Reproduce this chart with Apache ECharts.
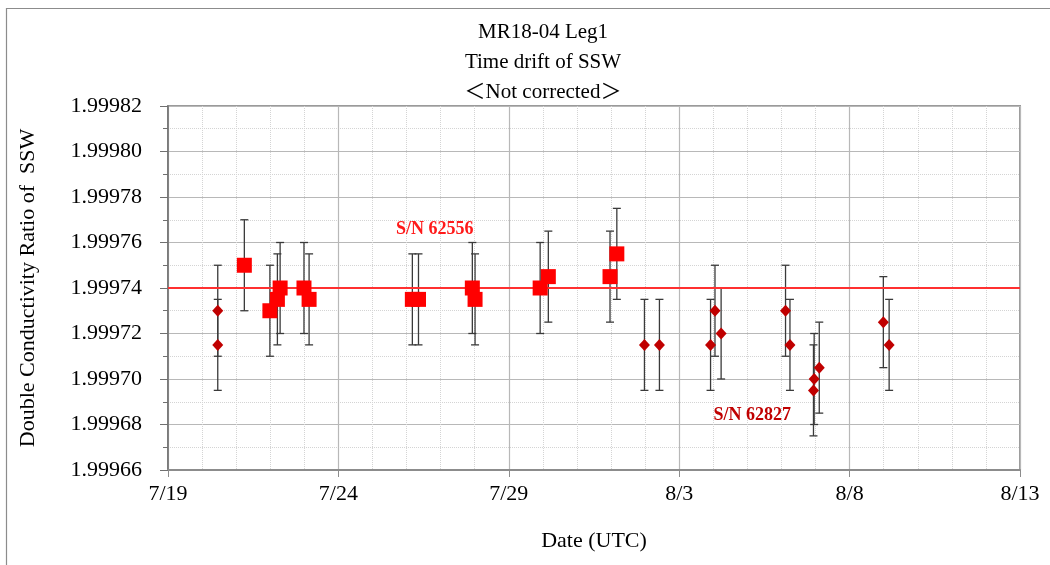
<!DOCTYPE html>
<html><head><meta charset="utf-8">
<script src="https://cdn.jsdelivr.net/npm/echarts@6/dist/echarts.min.js"></script>
<style>html,body{margin:0;padding:0;background:#fff}#c{width:1050px;height:565px}</style>
</head><body><div id="c"></div>
<script>
// x values: days since 7/19 (UTC)
const xTickLabels = ['7/19', '7/24', '7/29', '8/3', '8/8', '8/13'];
const days62556 = [2.24, 2.99, 3.21, 3.29, 3.99, 4.14, 7.17, 7.35, 8.93, 9.01, 10.92, 11.16, 12.97, 13.17];
const vals62556 = [1.99975, 1.99973, 1.999735, 1.99974, 1.99974, 1.999735, 1.999735, 1.999735, 1.99974, 1.999735, 1.99974, 1.999745, 1.999745, 1.999755];
const err62556 = [0.00002, 0.00002, 0.00002, 0.00002, 0.00002, 0.00002, 0.00002, 0.00002, 0.00002, 0.00002, 0.00002, 0.00002, 0.00002, 0.00002];
const days62827 = [1.46, 1.46, 13.98, 14.42, 15.92, 16.05, 16.23, 18.12, 18.25, 18.94, 18.96, 19.11, 20.99, 21.16];
const vals62827 = [1.99973, 1.999715, 1.999715, 1.999715, 1.999715, 1.99973, 1.99972, 1.99973, 1.999715, 1.999695, 1.9997, 1.999705, 1.999725, 1.999715];
const err62827 = [0.00002, 0.00002, 0.00002, 0.00002, 0.00002, 0.00002, 0.00002, 0.00002, 0.00002, 0.00002, 0.00002, 0.00002, 0.00002, 0.00002];
const refLine = 1.99974;
const xRange = [0, 25];
const label62556 = { text: 'S/N 62556', day: 7.83, value: 1.999766 };
const label62827 = { text: 'S/N 62827', day: 17.14, value: 1.999684 };

const serif = "'Liberation Serif', 'Noto Sans CJK JP', serif";

function errData(days, vals, errs) {
  return days.map((d, i) => [d, vals[i] - errs[i], vals[i] + errs[i]]);
}
const errAll = errData(days62827, vals62827, err62827).concat(errData(days62556, vals62556, err62556));

const chart = echarts.init(document.getElementById('c'), null, { renderer: 'canvas' });
chart.setOption({
  animation: false,
  backgroundColor: '#fff',
  title: {
    text: 'MR18-04 Leg1\nTime drift of SSW\n＜Not corrected＞',
    left: 538, top: 12, textAlign: 'center',
    textStyle: { fontFamily: serif, fontSize: 21, fontWeight: 'normal', color: '#000', lineHeight: 30 }
  },
  graphic: [{
    type: 'rect', shape: { x: 6.5, y: 8.5, width: 1100, height: 700 },
    style: { fill: 'none', stroke: '#8c8c8c', lineWidth: 1.2 }, silent: true
  }],
  grid: { left: 168, right: 30, top: 106, bottom: 95, show: true, borderColor: '#9a9a9a', borderWidth: 2, backgroundColor: 'transparent' },
  xAxis: {
    type: 'value', min: xRange[0], max: xRange[1], interval: 5,
    name: 'Date (UTC)', nameLocation: 'middle', nameGap: 60,
    nameTextStyle: { fontFamily: serif, fontSize: 22, color: '#000' },
    axisLine: { show: true, lineStyle: { color: '#8c8c8c', width: 2 } },
    axisTick: { show: true, length: 7, lineStyle: { color: '#8c8c8c' } },
    axisLabel: { fontFamily: serif, fontSize: 22, color: '#000', margin: 13,
      formatter: v => xTickLabels[Math.round(v / 5)] },
    splitLine: { show: true, lineStyle: { color: '#b8b8b8', width: 1.2 } },
    minorTick: { show: false, splitNumber: 5 },
    minorSplitLine: { show: true, lineStyle: { color: '#d4d4d4', type: 'dotted', width: 1 } }
  },
  yAxis: {
    type: 'value', min: 1.99966, max: 1.99982, interval: 0.00002,
    name: 'Double Conductivity Ratio of  SSW', nameLocation: 'middle', nameGap: 129, nameRotate: 90,
    nameTextStyle: { fontFamily: serif, fontSize: 22, color: '#000' },
    axisLine: { show: true, lineStyle: { color: '#707070', width: 1.5 } },
    axisTick: { show: true, length: 8, lineStyle: { color: '#707070' } },
    minorTick: { show: true, splitNumber: 2, length: 5, lineStyle: { color: '#707070' } },
    axisLabel: { fontFamily: serif, fontSize: 22, color: '#000', margin: 26,
      formatter: v => v.toFixed(5) },
    splitLine: { show: true, lineStyle: { color: '#b8b8b8', width: 1.2 } },
    minorSplitLine: { show: true, lineStyle: { color: '#d4d4d4', type: 'dotted', width: 1 } }
  },
  series: [
    {
      type: 'line', name: 'reference', z: 3, silent: true,
      symbol: 'none',
      lineStyle: { color: '#ff3030', width: 2 },
      data: [[xRange[0], refLine], [xRange[1], refLine]]
    },
    {
      type: 'custom', name: 'error', z: 2,
      data: errAll,
      renderItem: function (params, api) {
        const x = api.value(0);
        const lo = api.coord([x, api.value(1)]);
        const hi = api.coord([x, api.value(2)]);
        const cap = 4;
        const st = { stroke: '#3a3a3a', lineWidth: 1.3 };
        return {
          type: 'group',
          children: [
            { type: 'line', shape: { x1: lo[0], y1: lo[1], x2: hi[0], y2: hi[1] }, style: st },
            { type: 'line', shape: { x1: lo[0] - cap, y1: lo[1], x2: lo[0] + cap, y2: lo[1] }, style: st },
            { type: 'line', shape: { x1: hi[0] - cap, y1: hi[1], x2: hi[0] + cap, y2: hi[1] }, style: st }
          ]
        };
      }
    },
    {
      type: 'scatter', name: 'S/N 62827', z: 4,
      symbol: 'diamond', symbolSize: [11, 12],
      itemStyle: { color: '#c00000', opacity: 1 },
      data: days62827.map((d, i) => [d, vals62827[i]]),
      markPoint: {
        symbol: 'rect', symbolSize: 0,
        label: { show: true, position: 'inside', fontFamily: serif, fontSize: 18, fontWeight: 'bold', color: '#c00000',
          formatter: p => p.name },
        data: [{ name: label62827.text, coord: [label62827.day, label62827.value] }]
      }
    },
    {
      type: 'scatter', name: 'S/N 62556', z: 5,
      symbol: 'rect', symbolSize: 15,
      itemStyle: { color: '#ff0000', opacity: 1 },
      data: days62556.map((d, i) => [d, vals62556[i]]),
      markPoint: {
        symbol: 'rect', symbolSize: 0,
        label: { show: true, position: 'inside', fontFamily: serif, fontSize: 18, fontWeight: 'bold', color: '#ff1a1a',
          formatter: p => p.name },
        data: [{ name: label62556.text, coord: [label62556.day, label62556.value] }]
      }
    }
  ]
});
</script>
</body></html>
